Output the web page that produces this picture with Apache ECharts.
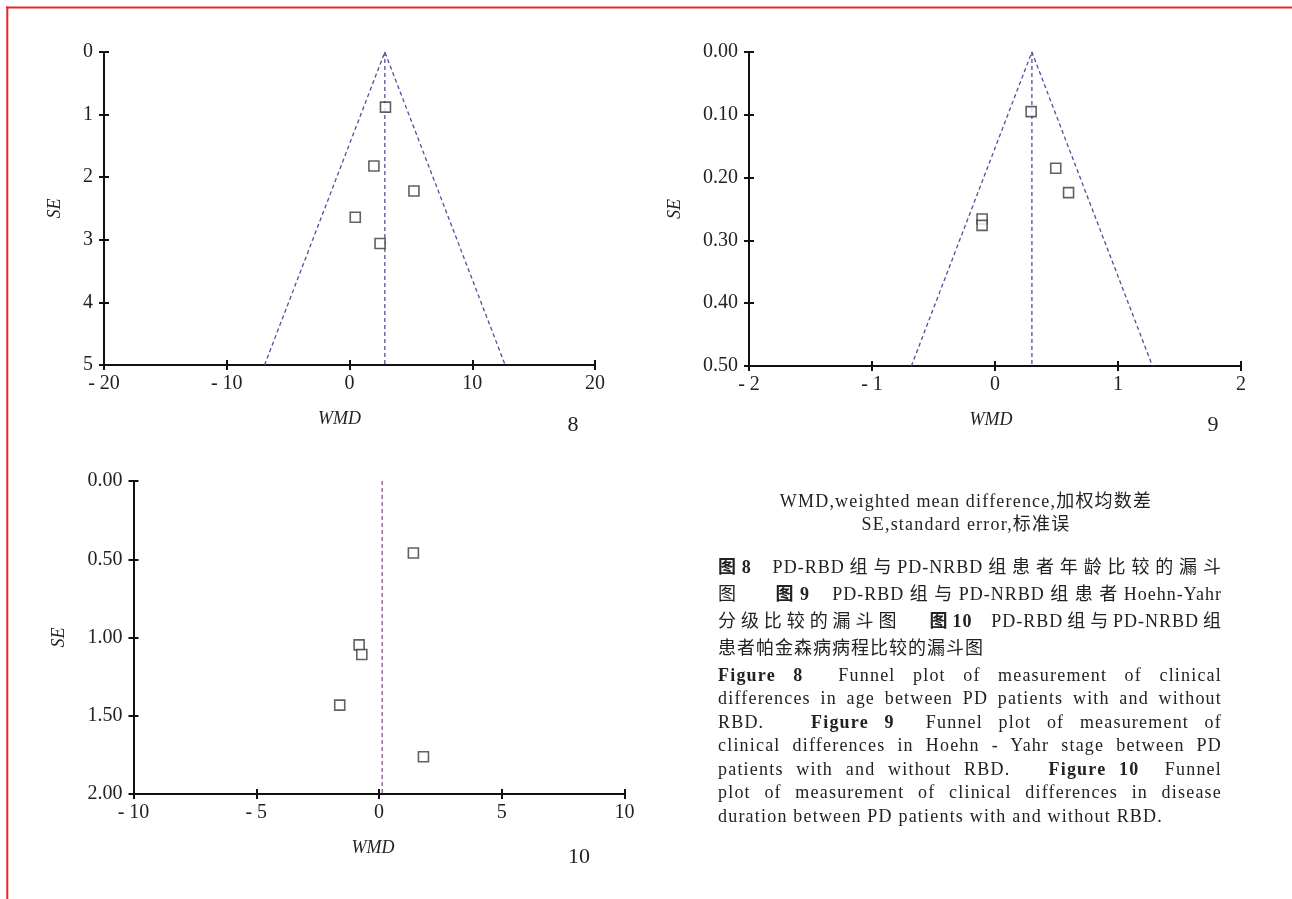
<!DOCTYPE html>
<html>
<head>
<meta charset="utf-8">
<script src="https://cdn.jsdelivr.net/npm/echarts@6/dist/echarts.min.js"></script>
<style>
html,body{margin:0;padding:0;background:#fff;}
#wrap{position:relative;width:1292px;height:899px;overflow:hidden;background:#fff;}
#chart{position:absolute;left:0;top:0;width:1292px;height:899px;}
.txt{position:absolute;font-family:"Liberation Serif","Noto Sans CJK SC",serif;font-size:18px;color:#222;line-height:20px;}
.hdr{left:714px;width:504px;text-align:center;letter-spacing:1.2px;}
.cap{left:718px;width:504px;text-align:justify;text-align-last:justify;letter-spacing:1.2px;}
.cap.last{text-align-last:left;}
.zh{letter-spacing:1px;}
b{font-weight:bold;}
</style>
</head>
<body>
<div id="wrap">
<div id="chart"></div>
<div class="txt hdr" style="top:491px;">WMD,weighted mean difference,加权均数差</div>
<div class="txt hdr" style="top:514px;">SE,standard error,标准误</div>
<div class="txt cap zh" style="top:557px;"><b>图8</b>&nbsp;&nbsp;PD-RBD组与PD-NRBD组患者年龄比较的漏斗</div>
<div class="txt cap zh" style="top:584px;">图&nbsp;&nbsp;&nbsp;<b>图9</b>&nbsp;&nbsp;PD-RBD组与PD-NRBD组患者Hoehn-Yahr</div>
<div class="txt cap zh" style="top:611px;">分级比较的漏斗图&nbsp;&nbsp;&nbsp;<b>图10</b>&nbsp;&nbsp;PD-RBD组与PD-NRBD组</div>
<div class="txt cap zh last" style="top:638px;">患者帕金森病病程比较的漏斗图</div>
<div class="txt cap" style="top:665px;"><b>Figure 8</b>&nbsp; Funnel plot of measurement of clinical</div>
<div class="txt cap" style="top:688px;">differences in age between PD patients with and without</div>
<div class="txt cap" style="top:712px;">RBD.&nbsp;&nbsp; <b>Figure 9</b>&nbsp; Funnel plot of measurement of</div>
<div class="txt cap" style="top:735px;">clinical differences in Hoehn - Yahr stage between PD</div>
<div class="txt cap" style="top:759px;">patients with and without RBD.&nbsp;&nbsp; <b>Figure 10</b>&nbsp; Funnel</div>
<div class="txt cap" style="top:782px;">plot of measurement of clinical differences in disease</div>
<div class="txt cap last" style="top:806px;">duration between PD patients with and without RBD.</div>
</div>
<script>
// ---- Figure 8 (age) ----
const wmd8 = [2.93, 1.99, 5.25, 0.47, 2.49];
const se8 = [0.88, 1.82, 2.22, 2.64, 3.06];
const funnelWmd8 = [-6.92, 2.88, 12.68];
const funnelSe8 = [5, 0, 5];
const pooledWmd8 = [2.88, 2.88];
const pooledSe8 = [0, 5];
const xLabels8 = ['- 20', '- 10', '0', '10', '20'];
const yLabels8 = ['0', '1', '2', '3', '4', '5'];

// ---- Figure 9 (Hoehn-Yahr) ----
const wmd9 = [0.294, 0.494, 0.598, -0.105, -0.105];
const se9 = [0.095, 0.185, 0.224, 0.266, 0.276];
const funnelWmd9 = [-0.68, 0.30, 1.28];
const funnelSe9 = [0.5, 0, 0.5];
const pooledWmd9 = [0.30, 0.30];
const pooledSe9 = [0, 0.5];
const xLabels9 = ['- 2', '- 1', '0', '1', '2'];
const yLabels9 = ['0.00', '0.10', '0.20', '0.30', '0.40', '0.50'];

// ---- Figure 10 (disease duration) ----
const wmd10 = [1.40, -0.81, -0.70, -1.60, 1.81];
const se10 = [0.46, 1.047, 1.109, 1.432, 1.762];
const pooledWmd10 = [0.13, 0.13];
const pooledSe10 = [0, 2];
const xLabels10 = ['- 10', '- 5', '0', '5', '10'];
const yLabels10 = ['0.00', '0.50', '1.00', '1.50', '2.00'];

const panelNames = ['8', '9', '10'];
const xName = 'WMD';
const yName = 'SE';

const SERIF = '"Liberation Serif", "Times New Roman", serif';
const AXIS_COLOR = '#111';

function pairs(xs, ys) { return xs.map((x, i) => [x, ys[i]]); }

function xAxes(grid, min, max, interval, labels, nameGap, shift) {
  return [
    {
      gridIndex: grid, type: 'value', position: 'bottom', min, max, interval,
      name: xName, nameLocation: 'middle', nameGap,
      nameTextStyle: { fontFamily: SERIF, fontStyle: 'italic', fontSize: 18, color: '#222',
        padding: [0, shift * 2, 0, 0] },
      axisLine: { show: true, onZero: false, lineStyle: { color: AXIS_COLOR, width: 2 } },
      axisTick: { show: true, length: 5, lineStyle: { color: AXIS_COLOR, width: 2 } },
      axisLabel: { fontFamily: SERIF, fontSize: 20, color: '#222', margin: 9,
        formatter: (v, i) => labels[i] },
      splitLine: { show: false }
    },
    {
      gridIndex: grid, type: 'value', position: 'bottom', min, max, interval,
      axisLine: { show: false, onZero: false },
      axisTick: { show: true, inside: true, length: 5, lineStyle: { color: AXIS_COLOR, width: 2 } },
      axisLabel: { show: false }, splitLine: { show: false }
    }
  ];
}
function yAxes(grid, min, max, interval, labels, nameGap) {
  return [
    {
      gridIndex: grid, type: 'value', position: 'left', inverse: true, min, max, interval,
      name: yName, nameLocation: 'middle', nameGap, nameRotate: 90,
      nameTextStyle: { fontFamily: SERIF, fontStyle: 'italic', fontSize: 18, color: '#222' },
      axisLine: { show: true, onZero: false, lineStyle: { color: AXIS_COLOR, width: 2 } },
      axisTick: { show: true, length: 5, lineStyle: { color: AXIS_COLOR, width: 2 } },
      axisLabel: { fontFamily: SERIF, fontSize: 20, color: '#222', margin: 11,
        formatter: (v, i) => labels[i] },
      splitLine: { show: false }
    },
    {
      gridIndex: grid, type: 'value', position: 'left', inverse: true, min, max, interval,
      axisLine: { show: false, onZero: false },
      axisTick: { show: true, inside: true, length: 5, lineStyle: { color: AXIS_COLOR, width: 2 } },
      axisLabel: { show: false }, splitLine: { show: false }
    }
  ];
}

function dashed(name, xi, yi, data, color) {
  return {
    name, type: 'line', xAxisIndex: xi, yAxisIndex: yi, data,
    symbol: 'none', silent: true, animation: false, z: 2,
    lineStyle: { color, width: 1.3, type: [4, 3] }
  };
}
function points(name, xi, yi, data) {
  return {
    name, type: 'scatter', xAxisIndex: xi, yAxisIndex: yi, data,
    symbol: 'rect', symbolSize: 10, animation: false, z: 5,
    itemStyle: { color: '#fff', borderColor: '#3a3a3a', borderWidth: 1.6 }
  };
}

const FUNNEL = '#544c9a';
const FUNNEL10 = '#8a5a8e';

const option = {
  animation: false,
  backgroundColor: '#fff',
  grid: [
    { left: 104, top: 52, width: 491, height: 313 },
    { left: 749, top: 52, width: 492, height: 314 },
    { left: 133.5, top: 481, width: 491, height: 313 }
  ],
  xAxis: [
    ...xAxes(0, -20, 20, 10, xLabels8, 45, 10),
    ...xAxes(1, -2, 2, 1, xLabels9, 45, 4),
    ...xAxes(2, -10, 10, 5, xLabels10, 45, 6)
  ],
  yAxis: [
    ...yAxes(0, 0, 5, 1, yLabels8, 40),
    ...yAxes(1, 0, 0.5, 0.1, yLabels9, 65),
    ...yAxes(2, 0, 2, 0.5, yLabels10, 65)
  ],
  series: [
    dashed('funnel8', 0, 0, pairs(funnelWmd8, funnelSe8), FUNNEL),
    dashed('pooled8', 0, 0, pairs(pooledWmd8, pooledSe8), FUNNEL),
    points('studies8', 0, 0, pairs(wmd8, se8)),
    dashed('funnel9', 2, 2, pairs(funnelWmd9, funnelSe9), FUNNEL),
    dashed('pooled9', 2, 2, pairs(pooledWmd9, pooledSe9), FUNNEL),
    points('studies9', 2, 2, pairs(wmd9, se9)),
    dashed('pooled10', 4, 4, pairs(pooledWmd10, pooledSe10), FUNNEL10),
    points('studies10', 4, 4, pairs(wmd10, se10))
  ],
  graphic: [
    { type: 'line', shape: { x1: 6, y1: 7.5, x2: 1292, y2: 7.5 }, style: { stroke: '#e8262d', lineWidth: 2 }, silent: true },
    { type: 'line', shape: { x1: 7.3, y1: 6.5, x2: 7.3, y2: 899 }, style: { stroke: '#e8262d', lineWidth: 2 }, silent: true },
    { type: 'text', x: 573, y: 425, style: { text: panelNames[0], font: '22px ' + SERIF, fill: '#222', align: 'center', verticalAlign: 'middle' }, silent: true },
    { type: 'text', x: 1213, y: 425, style: { text: panelNames[1], font: '22px ' + SERIF, fill: '#222', align: 'center', verticalAlign: 'middle' }, silent: true },
    { type: 'text', x: 579, y: 857, style: { text: panelNames[2], font: '22px ' + SERIF, fill: '#222', align: 'center', verticalAlign: 'middle' }, silent: true }
  ]
};

const chart = echarts.init(document.getElementById('chart'), null, { renderer: 'canvas' });
chart.setOption(option);
</script>
</body>
</html>
